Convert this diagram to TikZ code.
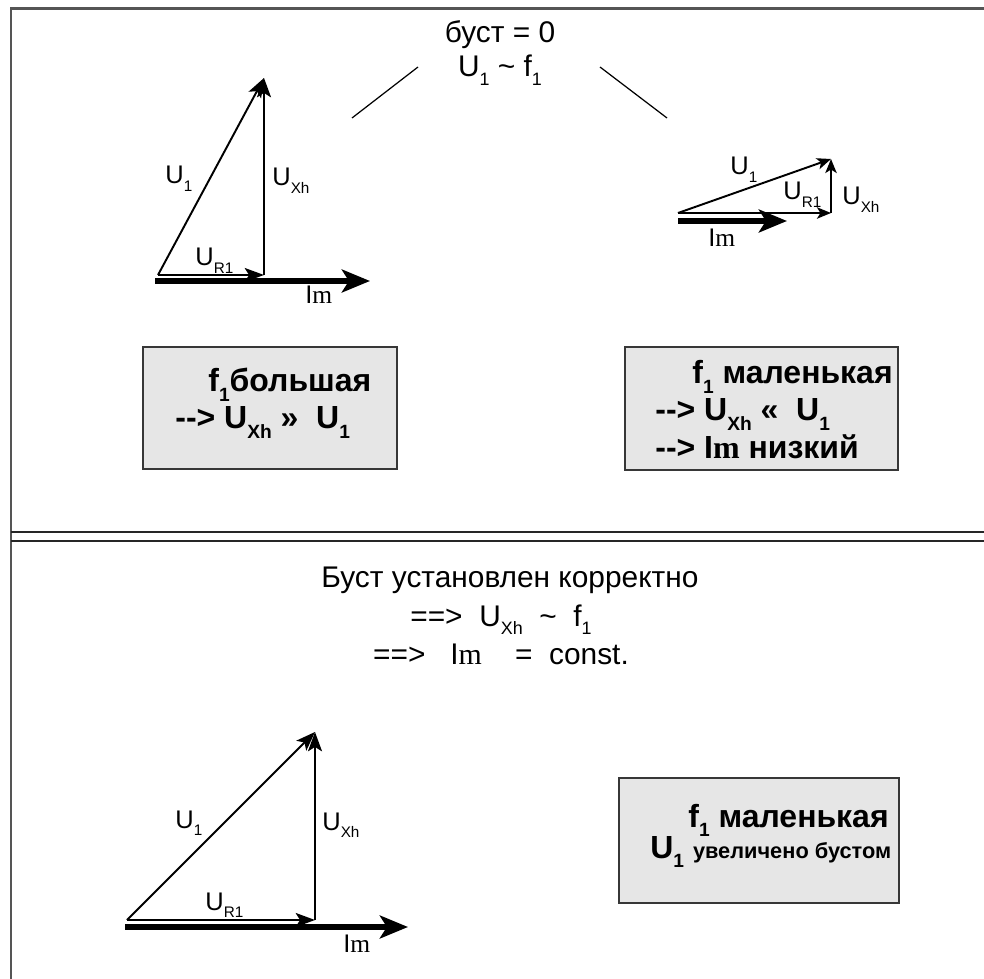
\documentclass[tikz,border=0pt]{standalone}
\usepackage{fontspec}
\setmainfont{Liberation Sans}
\newfontfamily\serifm{Liberation Serif}
\usetikzlibrary{arrows.meta}
\definecolor{FrameClr}{RGB}{85,85,85}
\definecolor{BoxClr}{RGB}{230,230,230}
\definecolor{BoxLineClr}{RGB}{55,55,55}
\newcommand{\lowsub}[1]{\raisebox{-0.55ex}{\scalebox{0.6}{#1}}}
\newcommand{\Imag}{I{\serifm m}}

\begin{document}
\begin{tikzpicture}[x=0.02cm,y=-0.02cm]
\tikzset{
  title/.style={font=\fontsize{17}{20}\selectfont,anchor=base,inner sep=0pt},
  vlabel/.style={font=\fontsize{14.5}{16}\selectfont,anchor=base west,inner sep=0pt},
  boxtext/.style={font=\bfseries\fontsize{18.2}{20}\selectfont,anchor=base west,inner sep=0pt},
  vec/.style={line width=1.1pt,-{Stealth[length=11pt,width=8pt,inset=2.5pt]}},
  smallvec/.style={line width=1.1pt,-{Stealth[length=8pt,width=6.5pt,inset=2pt]}},
  imvec/.style={line width=3.2pt,-{Stealth[length=16pt,width=13pt,inset=4pt]}},
  infobox/.style={fill=BoxClr,draw=BoxLineClr,line width=1.1pt},
  frame/.style={draw=FrameClr,line width=1.7pt},
  divider/.style={draw=black!85,line width=1pt},
}
\useasboundingbox (0,0) rectangle (984,979);

% frame and divider
\coordinate (FL) at (11,979); \coordinate (FT) at (11,9); \coordinate (FR) at (984,9);
\draw[frame] (FL) -- (FT) -- (FR);
\coordinate (D1a) at (11,532); \coordinate (D1b) at (984,532);
\coordinate (D2a) at (11,541); \coordinate (D2b) at (984,541);
\draw[divider] (D1a) -- (D1b);
\draw[divider] (D2a) -- (D2b);

% top part: boost = 0
\node[title] (boost) at (500,43) {буст = 0};
\node[title] (prop) at (500,77) {U\lowsub{1} \textasciitilde\ f\lowsub{1}};
\coordinate (LLa) at (352,118); \coordinate (LLb) at (418,67);
\coordinate (RLa) at (600,67); \coordinate (RLb) at (667,118);
\draw[line width=0.7pt] (LLa) -- (LLb);
\draw[line width=0.7pt] (RLa) -- (RLb);

% big f1
\coordinate (O1) at (158,275); \coordinate (C1) at (264,275); \coordinate (A1) at (264,78);
\coordinate (I1s) at (155,281); \coordinate (I1e) at (370,281);
\draw[vec] (O1) -- (A1);
\draw[vec] (O1) -- (C1);
\draw[vec] (C1) -- (A1);
\draw[imvec] (I1s) -- (I1e);
\node[vlabel] (u1a) at (165,184) {U\lowsub{1}};
\node[vlabel] (uxa) at (272,186) {U\lowsub{Xh}};
\node[vlabel] (ura) at (195,266) {U\lowsub{R1}};
\node[vlabel] (ima) at (305,304) {\Imag};

% small f1
\coordinate (O2) at (678,213); \coordinate (C2) at (831,213); \coordinate (A2) at (831,159);
\coordinate (I2s) at (678,221); \coordinate (I2e) at (787,221);
\draw[smallvec] (O2) -- (A2);
\draw[smallvec] (O2) -- (C2);
\draw[smallvec] (C2) -- (A2);
\draw[imvec] (I2s) -- (I2e);
\node[vlabel] (u1b) at (730,175) {U\lowsub{1}};
\node[vlabel] (urb) at (783,200) {U\lowsub{R1}};
\node[vlabel] (uxb) at (842,205) {U\lowsub{Xh}};
\node[vlabel] (imb) at (708,247) {\Imag};

\draw[infobox] (143,347) rectangle (397,469);
\node[boxtext] (bigA) at (208,392) {f\lowsub{1}большая};
\node[boxtext] (bigB) at (175,429) {-{}-> U\lowsub{Xh} »\ \ U\lowsub{1}};

\draw[infobox] (625,347) rectangle (898,470);
\node[boxtext] (smallA) at (692,384) {f\lowsub{1} маленькая};
\node[boxtext] (smallB) at (655,421) {-{}-> U\lowsub{Xh} «\ \ U\lowsub{1}};
\node[boxtext] (smallC) at (655,459) {-{}-> \Imag\ низкий};

% bottom part: boost set
\node[title] (set) at (510,588) {Буст установлен корректно};
\node[title] (setA) at (501,626) {==>\ \ U\lowsub{Xh}\ \ \textasciitilde\ \ f\lowsub{1}};
\node[title] (setB) at (501,664) {==>\ \ \ \Imag\ \ \ \ =\ \ const.};

\coordinate (O3) at (127,920); \coordinate (C3) at (315,920); \coordinate (A3) at (315,732);
\coordinate (I3s) at (125,927); \coordinate (I3e) at (408,927);
\draw[vec] (O3) -- (A3);
\draw[vec] (O3) -- (C3);
\draw[vec] (C3) -- (A3);
\draw[imvec] (I3s) -- (I3e);
\node[vlabel] (u1c) at (175,828) {U\lowsub{1}};
\node[vlabel] (uxc) at (322,830) {U\lowsub{Xh}};
\node[vlabel] (urc) at (205,910) {U\lowsub{R1}};
\node[vlabel] (imc) at (343,952) {\Imag};

\draw[infobox] (619,778) rectangle (899,903);
\node[boxtext] (boostA) at (688,827) {f\lowsub{1} маленькая};
\node[boxtext] (boostB) at (650,858) {U\lowsub{1} {\fontsize{12.4}{14}\selectfont увеличено\ бустом}};
\end{tikzpicture}
\end{document}
